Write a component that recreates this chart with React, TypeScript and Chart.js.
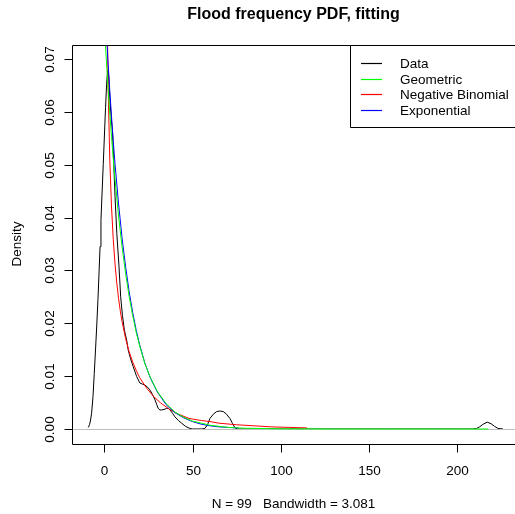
import React, { useEffect, useRef } from "react";
import { Chart, registerables } from "chart.js";

Chart.register(...registerables);

const dataX = [-9.2, -8.5, -8, -7.3, -6.5, -5.8, -5, -4.4, -3.7, -3.1, -2.5, -2.0, -1.3, -0.7, 0, 0.6, 1.2, 1.8, 2.4, 3.1, 3.8, 4.6, 5.3, 6.0, 7.0, 8.2, 9.2, 10.2, 11.3, 12.6, 13.5, 14.8, 16.3, 18.3, 20.1, 21.5, 23, 24.5, 25.8, 27.3, 28.7, 29.7, 30.5, 31.5, 32.5, 33.8, 35.3, 36.3, 37.2, 38.6, 40, 42, 43.8, 46, 48.5, 50, 55, 57, 58.5, 59.9, 61.8, 63.7, 65.5, 67.4, 69.3, 71.2, 72.8, 74.1, 75.5, 80, 120, 160, 200, 209, 211.2, 213, 215, 217.3, 219.5, 221.5, 223.5, 226.3];
const dataY = [0.0003, 0.0008, 0.0015, 0.0030, 0.0062, 0.0105, 0.0155, 0.0195, 0.0245, 0.0295, 0.0345, 0.0395, 0.0452, 0.0500, 0.0558, 0.0608, 0.0652, 0.0678, 0.0668, 0.0622, 0.0590, 0.0559, 0.0500, 0.0440, 0.0370, 0.0310, 0.0250, 0.0215, 0.0187, 0.0168, 0.0149, 0.0133, 0.0118, 0.0099, 0.0087, 0.0085, 0.0083, 0.0079, 0.0074, 0.0065, 0.0055, 0.0046, 0.0039, 0.0036, 0.0036, 0.0037, 0.0039, 0.0039, 0.0036, 0.0030, 0.0023, 0.0016, 0.0011, 0.0005, 0.0001, 0.0000, 0.0000, 0.0001, 0.0008, 0.0020, 0.0028, 0.0033, 0.0034, 0.0033, 0.0028, 0.0020, 0.0010, 0.0002, 0.0000, 0.0000, 0.0000, 0.0000, 0.0000, 0.0000, 0.0001, 0.0004, 0.0009, 0.0013, 0.0010, 0.0005, 0.0001, 0.0000];

// Geometric fit
const geomX = [0, 1, 2, 3, 4, 5, 6, 8, 10, 12, 14, 16, 18, 20, 23, 26, 30, 35, 40, 45, 50, 60, 70, 80, 100, 130, 160, 190, 218];
const geomY = [0.0758, 0.0701, 0.0647, 0.0598, 0.0553, 0.0511, 0.0472, 0.0403, 0.0344, 0.0294, 0.0251, 0.0215, 0.0183, 0.0157, 0.0123, 0.0098, 0.0071, 0.0048, 0.0032, 0.0022, 0.0015, 0.0007, 0.0003, 0.00014, 0.00003, 0, 0, 0, 0];

// Negative binomial fit
const nbX = [0, 1, 2, 3, 4, 5, 6, 7, 8, 9, 10, 12, 14, 16, 18, 20, 24, 28, 32, 37, 42, 48, 55, 60, 65, 75, 85, 95, 105, 115];
const nbY = [0.2516, 0.0974, 0.0660, 0.0511, 0.0420, 0.0358, 0.0312, 0.0276, 0.0247, 0.0223, 0.0203, 0.0171, 0.0146, 0.0127, 0.0111, 0.0097, 0.0077, 0.0061, 0.0049, 0.0037, 0.0028, 0.0020, 0.0016, 0.0014, 0.0011, 0.0008, 0.0006, 0.0004, 0.0003, 0.0002];

// Exponential fit
const expX = [0, 1, 2, 3, 4, 5, 6, 8, 10, 12, 14, 16, 18, 20, 23, 26, 30, 35, 40, 45, 50, 55, 60, 65, 70, 76];
const expY = [0.0820, 0.0755, 0.0696, 0.0641, 0.0591, 0.0544, 0.0501, 0.0426, 0.0361, 0.0307, 0.0260, 0.0221, 0.0187, 0.0159, 0.0124, 0.0097, 0.0070, 0.0046, 0.0031, 0.0021, 0.0014, 0.0009, 0.0006, 0.0004, 0.0003, 0.0002];

const xTicks = [0, 50, 100, 150, 200];
const yTicks = [0, 0.01, 0.02, 0.03, 0.04, 0.05, 0.06, 0.07];
const yTickLabels = ["0.00", "0.01", "0.02", "0.03", "0.04", "0.05", "0.06", "0.07"];

const legendNames = ["Data", "Geometric", "Negative Binomial", "Exponential"];
const legendColors = ["#000000", "#00ff00", "#ff0000", "#0000ff"];

const titleText = "Flood frequency PDF, fitting";
const xLabelText = "N = 99   Bandwidth = 3.081";
const yLabelText = "Density";

const FONT = "'Liberation Sans', Arial, sans-serif";

const pts = (xs: number[], ys: number[]) => xs.map((x, i) => ({ x, y: ys[i] }));

const rPlugin = {
  id: "rstyle",
  afterDatasetDraw(chart: any, args: any) {
    if (args.index !== 0) return;
    const { ctx, chartArea } = chart;
    const y0 = Math.round(chart.scales.y.getPixelForValue(0)) + 0.5;
    ctx.save();
    ctx.strokeStyle = "#bebebe";
    ctx.lineWidth = 1;
    ctx.beginPath();
    ctx.moveTo(chartArea.left, y0);
    ctx.lineTo(chartArea.right, y0);
    ctx.stroke();
    ctx.restore();
  },
  afterDraw(chart: any) {
    const { ctx, chartArea } = chart;
    const xs = chart.scales.x;
    const ys = chart.scales.y;
    ctx.save();
    ctx.strokeStyle = "#000";
    ctx.fillStyle = "#000";
    ctx.lineWidth = 1;
    // frame
    const L = chartArea.left + 0.5;
    const T = chartArea.top + 0.5;
    const B = chartArea.bottom + 0.5;
    ctx.beginPath();
    ctx.moveTo(chartArea.right + 10, T);
    ctx.lineTo(L, T);
    ctx.lineTo(L, B);
    ctx.lineTo(chartArea.right + 10, B);
    ctx.stroke();

    // x ticks
    ctx.font = `13.5px ${FONT}`;
    ctx.textAlign = "center";
    ctx.textBaseline = "alphabetic";
    xTicks.forEach((v) => {
      const px = Math.round(xs.getPixelForValue(v)) + 0.5;
      ctx.beginPath();
      ctx.moveTo(px, B);
      ctx.lineTo(px, B + 8);
      ctx.stroke();
      ctx.fillText(String(v), px, 475);
    });

    // y ticks
    yTicks.forEach((v, i) => {
      const py = Math.round(ys.getPixelForValue(v)) + 0.5;
      ctx.beginPath();
      ctx.moveTo(L - 8, py);
      ctx.lineTo(L, py);
      ctx.stroke();
      ctx.save();
      ctx.translate(53.5, py);
      ctx.rotate(-Math.PI / 2);
      ctx.textAlign = "center";
      ctx.textBaseline = "alphabetic";
      ctx.fillText(yTickLabels[i], 0, 0);
      ctx.restore();
    });

    // axis labels
    ctx.font = `13.5px ${FONT}`;
    ctx.textAlign = "center";
    ctx.fillText(xLabelText, 293.5, 508);
    ctx.save();
    ctx.translate(20.5, 244);
    ctx.rotate(-Math.PI / 2);
    ctx.textAlign = "center";
    ctx.fillText(yLabelText, 0, 0);
    ctx.restore();

    // title
    ctx.font = `bold 16px ${FONT}`;
    ctx.textAlign = "center";
    ctx.fillText(titleText, 293.5, 19);

    // legend
    ctx.fillStyle = "#fff";
    ctx.fillRect(350.5, 45.5, 200, 82);
    ctx.strokeStyle = "#000";
    ctx.beginPath();
    ctx.moveTo(560, 45.5);
    ctx.lineTo(350.5, 45.5);
    ctx.lineTo(350.5, 127.5);
    ctx.lineTo(560, 127.5);
    ctx.stroke();
    ctx.font = `13.5px ${FONT}`;
    ctx.textAlign = "left";
    legendNames.forEach((name, i) => {
      const ly = Math.round(62.7 + i * 15.8) + 0.5;
      ctx.strokeStyle = legendColors[i];
      ctx.lineWidth = 1.2;
      ctx.beginPath();
      ctx.moveTo(361, ly);
      ctx.lineTo(382, ly);
      ctx.stroke();
      ctx.fillStyle = "#000";
      ctx.fillText(name, 400, ly + 4.5);
    });
    ctx.restore();
  },
};

export default function App() {
  const ref = useRef<HTMLCanvasElement>(null);
  useEffect(() => {
    document.body.style.margin = "0";
    const canvas = ref.current!;
    const chart = new Chart(canvas, {
      type: "line",
      data: {
        datasets: [
          { label: legendNames[0], data: pts(dataX, dataY), borderColor: legendColors[0], order: 4 },
          { label: legendNames[1], data: pts(geomX, geomY), borderColor: legendColors[1], order: 1 },
          { label: legendNames[2], data: pts(nbX, nbY), borderColor: legendColors[2], order: 3 },
          { label: legendNames[3], data: pts(expX, expY), borderColor: legendColors[3], order: 2 },
        ],
      },
      options: {
        responsive: false,
        devicePixelRatio: 1,
        animation: false,
        events: [],
        layout: { padding: { left: 72, top: 45, right: 0, bottom: 70 } },
        elements: {
          point: { radius: 0 },
          line: { borderWidth: 1, tension: 0, fill: false },
        },
        plugins: {
          legend: { display: false },
          tooltip: { enabled: false },
          title: { display: false },
        },
        scales: {
          x: { type: "linear", min: -18.44, max: 233.1, display: false },
          y: { type: "linear", min: -0.00284, max: 0.07265, display: false },
        },
      },
      plugins: [rPlugin],
    } as any);
    return () => chart.destroy();
  }, []);
  return (
    <div style={{ position: "absolute", left: 0, top: 0, width: 515, height: 514, background: "#fff" }}>
      <canvas ref={ref} width={515} height={514} style={{ display: "block" }} />
    </div>
  );
}
